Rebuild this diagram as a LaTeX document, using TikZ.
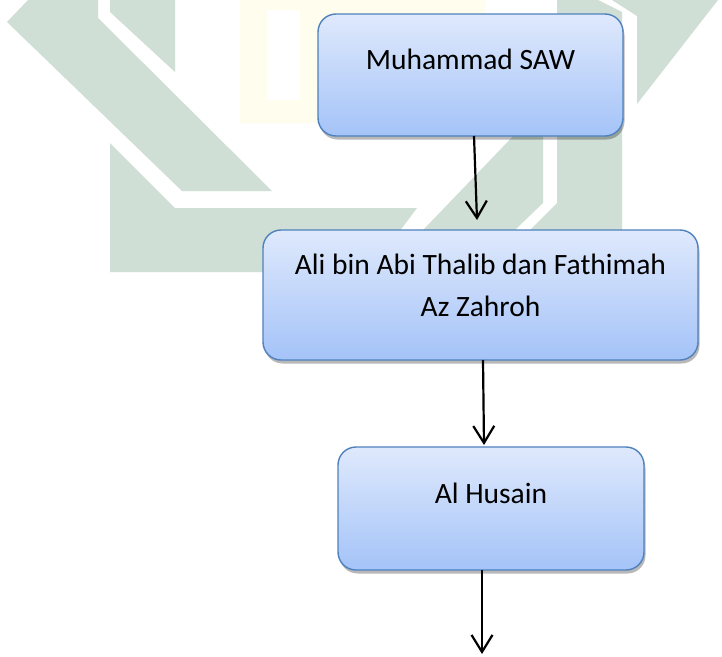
\documentclass[tikz,border=0pt]{standalone}
\usepackage{fontspec}
\setmainfont{Carlito}
\usetikzlibrary{arrows.meta,shadows,calc}
\definecolor{wmgreen}{RGB}{207,223,213}
\definecolor{wmyellow}{RGB}{255,253,237}
\definecolor{boxtop}{RGB}{223,233,252}
\definecolor{boxbot}{RGB}{164,195,248}
\definecolor{boxline}{RGB}{79,129,189}
\newcommand\boxtext[4]{\parbox[c][#2pt][t]{#1pt}{\centering\vspace*{#3pt}\rule{0pt}{25pt}#4\par}}
\tikzset{
  wbox/.style={rounded corners=18pt, draw=boxline, line width=1.4pt,
    top color=boxtop, bottom color=boxbot, inner sep=0pt, outer sep=0pt,
    font=\fontsize{29.5}{42}\selectfont,
    drop shadow={shadow xshift=1.5pt, shadow yshift=-3.5pt, fill=black, opacity=0.28}},
  conn/.style={draw=black, line width=2.2pt, -{Straight Barb[length=17pt,width=21pt]}},
  wm/.style={fill=wmgreen, draw=none}
}
\begin{document}
\begin{tikzpicture}[x=1pt,y=-1pt]
\fill[white] (0,0) rectangle (722,656);
\useasboundingbox (0,0) rectangle (722,656);
% watermark
\fill[wmyellow, even odd rule] (240,0) rectangle (485,123) (267,10) rectangle (300,100);
\fill[wm] (7,22) -- (28,0) -- (98,0) -- (98,18) -- (272,191) -- (182,191) -- cycle;
\fill[wm] (110,0) -- (175,0) -- (175,72) -- (110,12) -- cycle;
\fill[wm] (110,143) -- (175,208) -- (417,208) -- (369,272) -- (110,272) -- cycle;
\fill[wm] (425,228) -- (543,105) -- (543,203) -- (517,228) -- (505,240) -- (413,240) -- cycle;
\fill[wm] (557,0) -- (598,0) -- (622,12) -- (622,245) -- (515,245) -- (557,203) -- cycle;
\fill[wm] (612,0) -- (718,0) -- (637,104) -- (637,16) -- cycle;
% boxes
\node[wbox] (m) at (470.5,75) {\boxtext{305}{122}{30}{Muhammad SAW}};
\node[wbox] (a) at (480.5,295) {\boxtext{435}{130}{19}{Ali bin Abi Thalib dan Fathimah\\Az Zahroh}};
\node[wbox] (h) at (491,508.5) {\boxtext{306}{123}{31}{Al Husain}};
\coordinate (end) at (482,654);
% connectors
\draw[conn] ([xshift=3.5pt]m.south) -- ([xshift=-3.5pt,yshift=10pt]a.north);
\draw[conn] ([xshift=2.5pt]a.south) -- ([xshift=-7pt,yshift=2pt]h.north);
\draw[conn] ([xshift=-9pt]h.south) -- (end);
\end{tikzpicture}
\end{document}
